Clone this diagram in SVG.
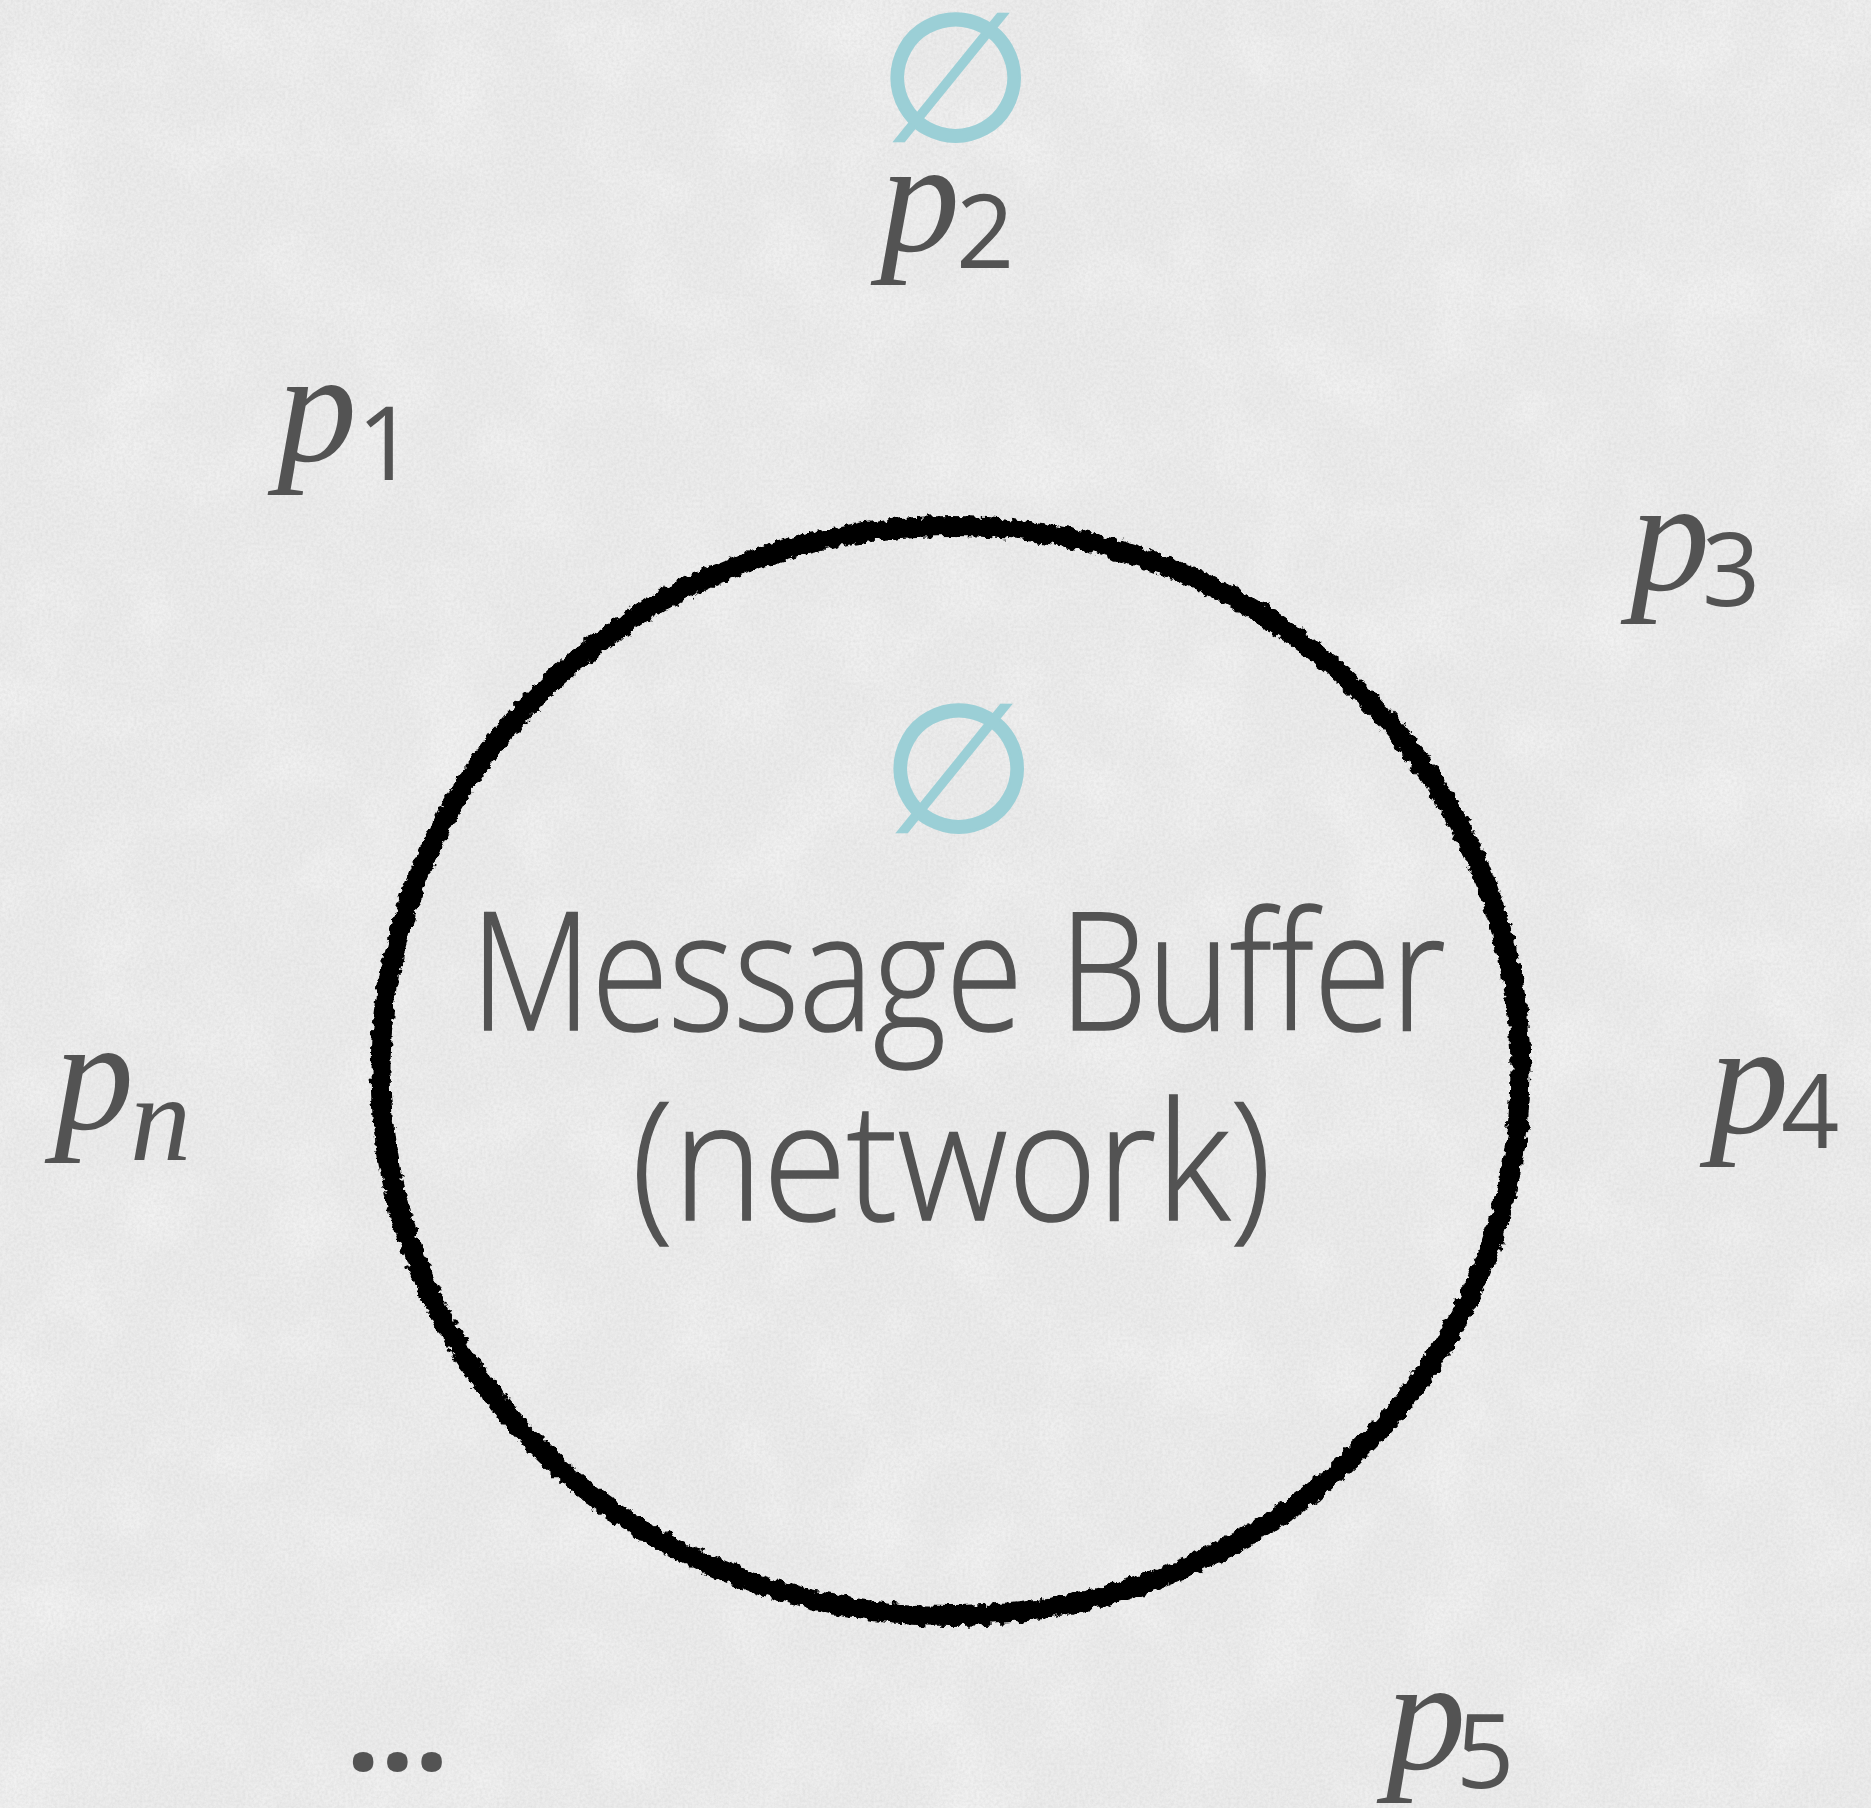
<svg xmlns="http://www.w3.org/2000/svg" width="1871" height="1808" viewBox="0 0 1871 1808">
  <defs>
    <!-- fine paper grain for the backdrop -->
    <filter id="grain" x="0" y="0" width="100%" height="100%">
      <feTurbulence type="fractalNoise" baseFrequency="0.35" numOctaves="3" seed="4" result="n"/>
      <feColorMatrix in="n" type="matrix" values="0 0 0 0 0.5  0 0 0 0 0.5  0 0 0 0 0.5  0 0 0 -1.6 1.1"/>
    </filter>
    <!-- soft mottling of the paper -->
    <filter id="mottle" x="0" y="0" width="100%" height="100%">
      <feTurbulence type="fractalNoise" baseFrequency="0.012" numOctaves="4" seed="11" result="m"/>
      <feColorMatrix in="m" type="matrix" values="0 0 0 0 1  0 0 0 0 1  0 0 0 0 1  0 0 0 -2.2 1.25"/>
    </filter>
    <!-- chalky, ragged edge for the buffer outline -->
    <filter id="rough" x="-5%" y="-5%" width="110%" height="110%">
      <feTurbulence type="fractalNoise" baseFrequency="0.12" numOctaves="3" seed="7" result="t"/>
      <feDisplacementMap in="SourceGraphic" in2="t" scale="10" xChannelSelector="R" yChannelSelector="G"/>
    </filter>
    <style>
      .proc { font-family: "Liberation Serif", "Times New Roman", serif; font-style: italic; font-size: 160px; fill: #535353; }
      .sub { font-family: "Open Sans", "Liberation Sans", sans-serif; font-size: 102px; fill: #535353; }
      .subi { font-family: "Liberation Serif", "Times New Roman", serif; font-style: italic; font-size: 122px; fill: #535353; }
      .label { font-family: "Open Sans", "Liberation Sans", sans-serif; font-weight: 300; font-size: 165px; fill: #535353; stroke: #535353; stroke-width: 1.5; text-anchor: middle; }
      .empty { font-family: "DejaVu Sans", sans-serif; font-size: 178px; fill: #9BCFD6; stroke: #9BCFD6; stroke-width: 2.5; text-anchor: middle; }
      .dots { font-family: "Open Sans", "Liberation Sans", sans-serif; font-weight: 700; font-size: 120px; fill: #535353; }
    </style>
  </defs>

  <rect width="1871" height="1808" fill="#ECECEC"/>
  <rect width="1871" height="1808" filter="url(#mottle)" opacity="0.3"/>
  <rect width="1871" height="1808" filter="url(#grain)" opacity="0.25"/>

  <g id="connectors"/>

  <g id="buffer">
    <ellipse cx="950.5" cy="1071" rx="570" ry="545" fill="none" stroke="#000" stroke-width="20" filter="url(#rough)"/>
    <text class="empty" x="958.5" y="831">∅</text>
    <text class="label" x="958" y="1030" textLength="975" lengthAdjust="spacingAndGlyphs">Message Buffer</text>
    <text class="label" x="951.5" y="1220" textLength="640" lengthAdjust="spacingAndGlyphs">(network)</text>
  </g>

  <g id="p2">
    <text class="empty" x="955.5" y="140">∅</text>
    <text class="proc" x="880" y="251">p</text>
    <text class="sub" x="956" y="268">2</text>
  </g>

  <g id="p1">
    <text class="proc" x="277" y="461">p</text>
    <text class="sub" x="357" y="480">1</text>
  </g>

  <g id="p3">
    <text class="proc" x="1630" y="590">p</text>
    <text class="sub" x="1702" y="606">3</text>
  </g>

  <g id="p4">
    <text class="proc" x="1709" y="1133">p</text>
    <text class="sub" x="1781" y="1148">4</text>
  </g>

  <g id="p5">
    <text class="proc" x="1386" y="1769">p</text>
    <text class="sub" x="1456" y="1788">5</text>
  </g>

  <g id="pn">
    <text class="proc" x="54" y="1129">p</text>
    <text class="subi" x="130" y="1160">n</text>
  </g>

  <g id="ellipsis">
    <text class="dots" x="346" y="1770">...</text>
  </g>
</svg>
